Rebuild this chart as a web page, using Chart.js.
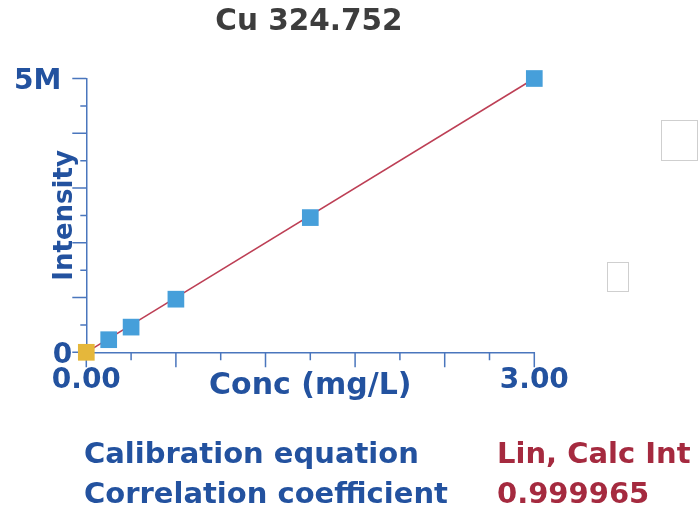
<!DOCTYPE html>
<html>
<head>
<meta charset="utf-8">
<script src="https://cdn.jsdelivr.net/npm/chart.js@4.4.1/dist/chart.umd.min.js"></script>
<style>
  body { margin: 0; background: #fff; }
  #wrap { position: relative; width: 698px; height: 513px; overflow: hidden;
          font-family: "DejaVu Sans", sans-serif; font-weight: bold; }
  #calChart { position: absolute; left: 0; top: 0; }
  .txt { position: absolute; white-space: nowrap; line-height: 1; }
  .blue { color: #23529f; }
  .red { color: #a52a3f; }
  .box { position: absolute; border: 1px solid #cfcfcf; box-sizing: border-box; }
</style>
</head>
<body>
<div id="wrap">
  <canvas id="calChart" width="698" height="513"></canvas>
  <div class="txt" id="title" style="left:0; width:618px; top:6px; text-align:center; font-size:29.5px; color:#3d3d3d;">Cu 324.752</div>
  <div class="txt blue" style="left:84px; top:439px; font-size:29px;">Calibration equation</div>
  <div class="txt blue" style="left:84px; top:479px; font-size:29px;">Correlation coefficient</div>
  <div class="txt red" id="calEq" style="left:497px; top:439px; font-size:29px;"></div>
  <div class="txt red" id="corr" style="left:497px; top:479px; font-size:29px;"></div>
  <div class="box" style="left:661px; top:120px; width:37px; height:41px;"></div>
  <div class="box" style="left:607px; top:262px; width:22px; height:30px;"></div>
</div>

<script>
// standards: first entry is the blank
const concStd = [0.00, 0.15, 0.30, 0.60, 1.50, 3.00];
const intensityStd = [0, 0.23e6, 0.46e6, 0.97e6, 2.46e6, 5.0e6];

// calibration line end points
const fitConc = [0.00, 3.00];
const fitIntensity = [0, 5.0e6];

// axis ranges and tick labels
const xRange = [0, 3.0];
const xStep = 0.3;
const xTickLabels = ['0.00', '3.00'];
const yRange = [0, 5.0e6];
const yStep = 0.5e6;
const yTickLabels = ['0', '5M'];

const calEquation = 'Lin, Calc Int';
const corrCoeff = '0.999965';

document.getElementById('calEq').innerText = calEquation;
document.getElementById('corr').innerText = corrCoeff;

const LABEL_BLUE = '#23529f';
const AXIS_BLUE = '#4a76bd';
const FONT = '"DejaVu Sans", sans-serif';

// tick marks: long on every other tick, short in between.
// y labels are drawn here too since their offsets differ
const axisTicks = {
  id: 'axisTicks',
  beforeDatasetsDraw(chart) {
    const { ctx, scales: { x, y }, chartArea } = chart;
    ctx.save();
    ctx.strokeStyle = AXIS_BLUE;
    ctx.lineWidth = 1.5;
    ctx.beginPath();
    x.ticks.forEach((t, i) => {
      const px = x.getPixelForValue(t.value);
      const len = i % 2 === 0 ? 15 : 8;
      ctx.moveTo(px, chartArea.bottom);
      ctx.lineTo(px, chartArea.bottom + len);
    });
    y.ticks.forEach((t, i) => {
      const py = y.getPixelForValue(t.value);
      const len = i % 2 === 0 ? 14 : 6;
      ctx.moveTo(chartArea.left - len, py);
      ctx.lineTo(chartArea.left, py);
    });
    ctx.stroke();

    ctx.fillStyle = LABEL_BLUE;
    ctx.font = 'bold 28px ' + FONT;
    ctx.textAlign = 'right';
    ctx.textBaseline = 'middle';
    yRange.forEach((v, i) => {
      const py = y.getPixelForValue(v);
      const pad = i === 0 ? 14 : 25;
      ctx.fillText(yTickLabels[i], chartArea.left - pad, py + 3);
    });
    ctx.restore();
  }
};

new Chart(document.getElementById('calChart'), {
  type: 'scatter',
  data: {
    datasets: [
      {
        label: 'Standards',
        data: concStd.map((c, i) => ({ x: c, y: intensityStd[i] })),
        showLine: false,
        pointStyle: 'rect',
        pointRadius: 11.8,
        pointBorderWidth: 0,
        pointBackgroundColor: (c) => c.dataIndex === 0 ? '#e5b73b' : '#469fda',
        pointBorderColor: (c) => c.dataIndex === 0 ? '#e5b73b' : '#469fda',
        clip: false,
        order: 1
      },
      {
        label: 'Fit',
        data: fitConc.map((c, i) => ({ x: c, y: fitIntensity[i] })),
        showLine: true,
        borderColor: '#bd3f55',
        borderWidth: 1.5,
        pointRadius: 0,
        clip: false,
        order: 2
      }
    ]
  },
  options: {
    responsive: false,
    animation: false,
    events: [],
    layout: {
      autoPadding: false,
      padding: { left: 0, right: 163.7, top: 78.5, bottom: 108.7 }
    },
    plugins: {
      legend: { display: false },
      title: { display: false },
      tooltip: { enabled: false }
    },
    scales: {
      x: {
        type: 'linear',
        min: xRange[0],
        max: xRange[1],
        grid: { display: true, drawOnChartArea: false, color: 'transparent', drawTicks: true, tickLength: 12 },
        border: { display: true, color: AXIS_BLUE, width: 1.5 },
        ticks: {
          stepSize: xStep,
          autoSkip: false,
          maxRotation: 0,
          padding: 0,
          color: LABEL_BLUE,
          font: { family: FONT, size: 28, weight: 'bold' },
          callback: (v, i, ticks) => i === 0 ? xTickLabels[0] : (i === ticks.length - 1 ? xTickLabels[1] : '')
        },
        title: {
          display: true,
          text: 'Conc (mg/L)',
          color: LABEL_BLUE,
          font: { family: FONT, size: 30, weight: 'bold' },
          padding: { top: 0, bottom: 0 }
        },
        afterFit: (s) => { s.height = 52; }
      },
      y: {
        type: 'linear',
        min: yRange[0],
        max: yRange[1],
        grid: { display: true, drawOnChartArea: false, color: 'transparent', drawTicks: false },
        border: { display: true, color: AXIS_BLUE, width: 1.5 },
        ticks: { stepSize: yStep, display: false },
        title: {
          display: true,
          text: 'Intensity',
          color: LABEL_BLUE,
          font: { family: FONT, size: 26, weight: 'bold' },
          padding: { top: 50, bottom: 0 }
        },
        afterFit: (s) => { s.width = 86.3; }
      }
    }
  },
  plugins: [axisTicks]
});
</script>
</body>
</html>
